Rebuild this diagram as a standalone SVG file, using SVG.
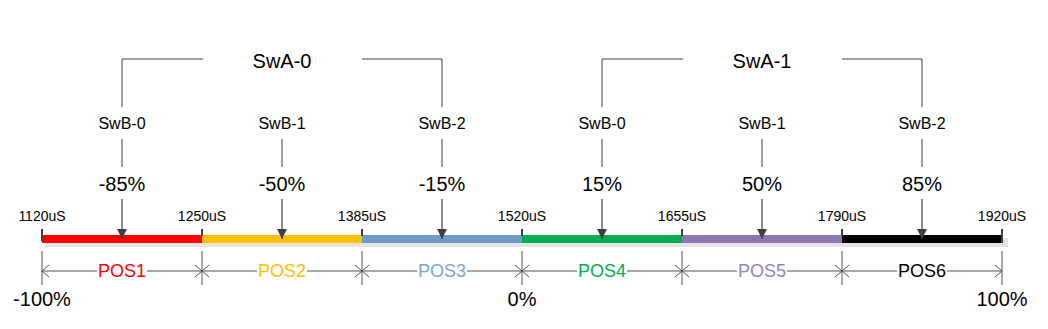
<svg xmlns="http://www.w3.org/2000/svg" width="1048" height="329" viewBox="0 0 1048 329">
<style>
text{font-family:"Liberation Sans",Arial,sans-serif;text-anchor:middle;fill:#000}
.us{font-size:14px}
.swa{font-size:20px}
.swb{font-size:16px}
.pct{font-size:20px}
.pos{font-size:18px}
.br{fill:none;stroke:#404040;stroke-width:1}
.ar{fill:none;stroke:#404040;stroke-width:1.2}
.dim{fill:none;stroke:#555;stroke-width:1}
.tk{fill:#404040}
</style>
<defs>
<marker id="ah" markerWidth="12" markerHeight="12" refX="10" refY="5" orient="auto" markerUnits="userSpaceOnUse">
<path d="M0,0 L10,5 L0,10 Z" fill="#404040"/>
</marker>
</defs>
<g id="bar">
<rect x="46" y="238" width="962" height="9" fill="#e4e4e4"/>
<rect x="42" y="235" width="160" height="8" fill="#ff0000"/>
<rect x="202" y="235" width="160" height="8" fill="#ffc000"/>
<rect x="362" y="235" width="160" height="8" fill="#6f9ac6"/>
<rect x="522" y="235" width="160" height="8" fill="#00b050"/>
<rect x="682" y="235" width="160" height="8" fill="#8c78b0"/>
<rect x="842" y="235" width="160" height="8" fill="#000"/>
<rect class="tk" x="41" y="229" width="2" height="12"/>
<rect class="tk" x="201" y="229" width="2" height="7"/>
<rect class="tk" x="361" y="229" width="2" height="7"/>
<rect class="tk" x="521" y="229" width="2" height="7"/>
<rect class="tk" x="681" y="229" width="2" height="7"/>
<rect class="tk" x="841" y="229" width="2" height="7"/>
<rect class="tk" x="1001" y="229" width="2" height="14"/>
</g>
<g id="us-labels">
<text class="us" x="42" y="221">1120uS</text>
<text class="us" x="202" y="221">1250uS</text>
<text class="us" x="362" y="221">1385uS</text>
<text class="us" x="522" y="221">1520uS</text>
<text class="us" x="682" y="221">1655uS</text>
<text class="us" x="842" y="221">1790uS</text>
<text class="us" x="1002" y="221">1920uS</text>
</g>
<g id="swa0">
<text class="swa" x="282" y="68">SwA-0</text>
</g>
<g id="swa1">
<text class="swa" x="762" y="68">SwA-1</text>
</g>
<g id="swb">
<text class="swb" x="122" y="129">SwB-0</text>
<text class="swb" x="282" y="129">SwB-1</text>
<text class="swb" x="442" y="129">SwB-2</text>
<text class="swb" x="602" y="129">SwB-0</text>
<text class="swb" x="762" y="129">SwB-1</text>
<text class="swb" x="922" y="129">SwB-2</text>
</g>
<g id="pcts">
<text class="pct" x="122" y="191">-85%</text>
<text class="pct" x="282" y="191">-50%</text>
<text class="pct" x="442" y="191">-15%</text>
<text class="pct" x="602" y="191">15%</text>
<text class="pct" x="762" y="191">50%</text>
<text class="pct" x="922" y="191">85%</text>
</g>
<g id="connectors">
<path class="br" d="M122,107 V59 H203 M362,59 H442 V107"/>
<path class="br" d="M602,107 V59 H683 M842,59 H922 V107"/>
<path class="br" d="M122,139 V167 M282,139 V167 M442,139 V167 M602,139 V167 M762,139 V167 M922,139 V167"/>
<path class="ar" d="M122,199 V239" marker-end="url(#ah)"/>
<path class="ar" d="M282,199 V239" marker-end="url(#ah)"/>
<path class="ar" d="M442,199 V239" marker-end="url(#ah)"/>
<path class="ar" d="M602,199 V239" marker-end="url(#ah)"/>
<path class="ar" d="M762,199 V239" marker-end="url(#ah)"/>
<path class="ar" d="M922,199 V239" marker-end="url(#ah)"/>
</g>
<g id="dimension">
<path class="dim" d="M42,251 V285 M202,251 V285 M362,251 V285 M522,251 V285 M682,251 V285 M842,251 V285 M1002,251 V285"/>
<path class="dim" d="M42,271 H97 M147,271 H257 M307,271 H417 M467,271 H577 M627,271 H737 M787,271 H897 M947,271 H1002"/>
<path class="dim" d="M49,265 L42,271 L49,277 M195,265 L202,271 L195,277 M209,265 L202,271 L209,277 M355,265 L362,271 L355,277 M369,265 L362,271 L369,277 M515,265 L522,271 L515,277 M529,265 L522,271 L529,277 M675,265 L682,271 L675,277 M689,265 L682,271 L689,277 M835,265 L842,271 L835,277 M849,265 L842,271 L849,277 M995,265 L1002,271 L995,277"/>
<text class="pos" x="122" y="277" style="fill:#ff0000">POS1</text>
<text class="pos" x="282" y="277" style="fill:#ffc000">POS2</text>
<text class="pos" x="442" y="277" style="fill:#7ea6d4">POS3</text>
<text class="pos" x="602" y="277" style="fill:#00b050">POS4</text>
<text class="pos" x="762" y="277" style="fill:#9682bb">POS5</text>
<text class="pos" x="922" y="277" style="fill:#000">POS6</text>
<text class="pct" x="42" y="306">-100%</text>
<text class="pct" x="522" y="306">0%</text>
<text class="pct" x="1002" y="306">100%</text>
</g>
</svg>
